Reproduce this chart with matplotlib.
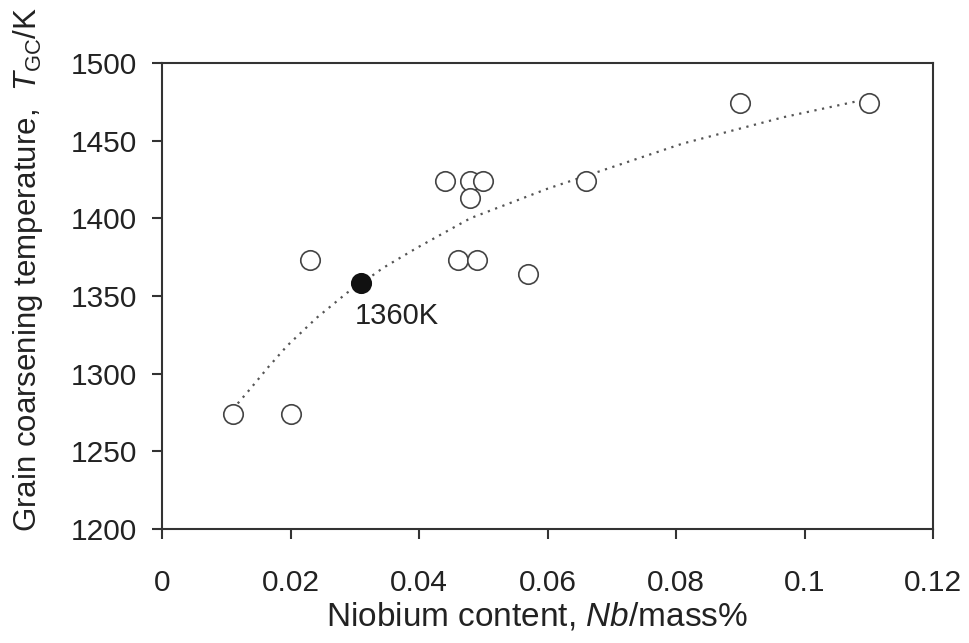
import matplotlib
matplotlib.use("Agg")
import matplotlib.pyplot as plt

plt.rcParams['font.family'] = ['Liberation Sans', 'DejaVu Sans']
plt.rcParams['mathtext.fontset'] = 'custom'
plt.rcParams['mathtext.rm'] = 'Liberation Sans'
plt.rcParams['mathtext.it'] = 'Liberation Sans:italic'

# open-circle data
nb_open = [0.011, 0.020, 0.023, 0.044, 0.048, 0.050, 0.048, 0.046, 0.049, 0.057, 0.066, 0.090, 0.110]
t_open = [1274, 1274, 1373, 1424, 1424, 1424, 1413, 1373, 1373, 1364, 1424, 1474, 1474]
# highlighted point
nb_fill = [0.031]
t_fill = [1358]
# fitted trend line
nb_fit = [0.011, 0.0137, 0.0165, 0.0195, 0.0241, 0.0288, 0.031, 0.0344, 0.0397, 0.048, 0.060,
          0.0658, 0.081, 0.0967, 0.109]
t_fit = [1277, 1290, 1304, 1318, 1336, 1352, 1358, 1368, 1381, 1400, 1419, 1427, 1448, 1465, 1476]

fig = plt.figure(figsize=(9.7, 6.43), dpi=100)
ax = fig.add_axes([0.167, 0.1773, 0.795, 0.725])

ax.plot(nb_fit, t_fit, linestyle=(0, (1, 2.5)), color='#555555', linewidth=1.6, zorder=1)
ax.plot(nb_open, t_open, linestyle='none', marker='o', markersize=14,
        markerfacecolor='white', markeredgecolor='#444444', markeredgewidth=1.2, zorder=2)
ax.plot(nb_fill, t_fill, linestyle='none', marker='o', markersize=14,
        markerfacecolor='#111111', markeredgecolor='#111111', markeredgewidth=1.2, zorder=3)
ax.text(0.0300, 1337, '1360K', fontsize=21, color='#222222', ha='left', va='center')

ax.set_xlim(0, 0.12)
ax.set_ylim(1200, 1500)
ax.set_xticks([0, 0.02, 0.04, 0.06, 0.08, 0.1, 0.12])
ax.set_xticklabels(['0', '0.02', '0.04', '0.06', '0.08', '0.1', '0.12'])
ax.set_yticks([1200, 1250, 1300, 1350, 1400, 1450, 1500])

for s in ax.spines.values():
    s.set_linewidth(1.5)
    s.set_color('#333333')
ax.tick_params(axis='both', direction='out', length=7, width=1.5, color='#333333',
               labelsize=21.5, labelcolor='#222222')
ax.tick_params(axis='y', pad=11)
ax.tick_params(axis='x', pad=22)

ax.set_xlabel('Niobium content, $\\mathit{Nb}$/mass%', fontsize=24, color='#222222')
ax.set_ylabel('Grain coarsening temperature,  $\\mathit{T}_{\\mathrm{GC}}$/K', fontsize=22.5,
              color='#222222')
ax.xaxis.set_label_coords(0.486, -0.153)
ax.yaxis.set_label_coords(-0.152, 0.556)

fig.savefig('out.png', dpi=100)
